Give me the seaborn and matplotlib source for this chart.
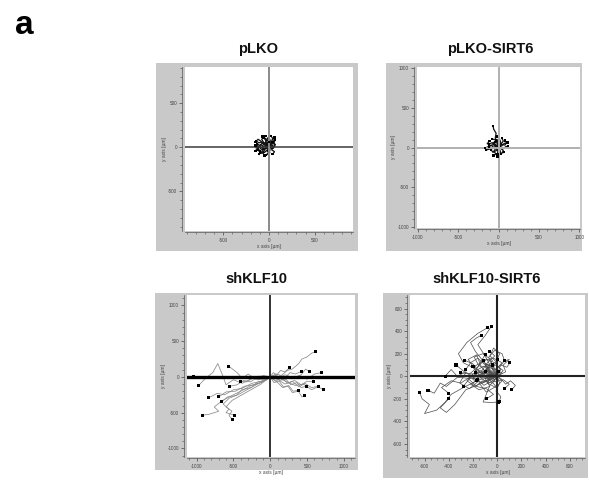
import pandas as pd
import matplotlib
matplotlib.use('Agg')
import matplotlib.pyplot as plt
from matplotlib.ticker import MultipleLocator
import seaborn as sns

# ----------
# track coordinates in um (every track starts at 0,0)
# ----------
plko_tracks = [
    [(0, 0), (-30, 20), (-60, 10), (-90, 30), (-120, -10), (-150, -40)],
    [(0, 0), (20, 40), (-10, 70), (-40, 100), (-70, 120)],
    [(0, 0), (30, 30), (50, 60), (40, 100), (20, 130)],
    [(0, 0), (-20, -30), (-50, -60), (-80, -50), (-110, -80)],
    [(0, 0), (40, -10), (60, 20), (55, 50), (65, 80)],
    [(0, 0), (-40, 40), (-80, 60), (-110, 50), (-140, 70)],
    [(0, 0), (10, -40), (-10, -70), (-30, -90)],
    [(0, 0), (-60, -20), (-90, 0), (-130, 20), (-100, -50)],
    [(0, 0), (30, 50), (0, 90), (-30, 70), (-60, 110)],
    [(0, 0), (50, 10), (30, -30), (60, -50), (40, -80)],
    [(0, 0), (-20, 60), (-50, 40), (-80, 90), (-40, 130)],
    [(0, 0), (-70, 10), (-50, -40), (-90, -70), (-120, -30)],
    [(0, 0), (-40, -10), (-20, 30), (-70, 50), (-100, 20), (-130, 40)],
    [(0, 0), (20, 10), (10, 50), (50, 40), (30, 80), (60, 110)],
    [(0, 0), (-10, 20), (-40, -20), (-70, -30), (-60, -70), (-100, -60)],
    [(0, 0), (40, 20), (20, -20), (50, -10), (70, 30), (40, 60)],
    [(0, 0), (-30, 50), (-60, 30), (-90, 70), (-120, 90), (-150, 60)],
    [(0, 0), (-20, -50), (10, -60), (-20, -80), (-50, -95)],
    [(0, 0), (-50, 30), (-30, 80), (-10, 110), (10, 90), (0, 60)],
    [(0, 0), (-80, -30), (-110, 10), (-140, -10), (-150, 20)],
]

plko_sirt6_tracks = [
    [(0, 0), (-20, 60), (-40, 120), (-30, 180), (-60, 230), (-66, 267)],
    [(0, 0), (40, 20), (70, 50), (110, 62)],
    [(0, 0), (20, -40), (28, -81)],
    [(0, 0), (-10, -60), (-12, -114)],
    [(0, 0), (-60, -10), (-110, -20), (-156, -32)],
    [(0, 0), (-40, 30), (-80, 60), (-120, 40)],
    [(0, 0), (30, 60), (10, 110), (-20, 140)],
    [(0, 0), (-30, -40), (-70, -60), (-90, -30)],
    [(0, 0), (50, -20), (90, 10), (120, 20)],
    [(0, 0), (-50, 50), (-30, 90), (-80, 110)],
    [(0, 0), (20, 30), (60, 80), (40, 120)],
    [(0, 0), (-80, -10), (-130, 10), (-170, -10)],
    [(0, 0), (-20, 20), (-60, 0), (-90, 30), (-120, 10)],
    [(0, 0), (10, 40), (-20, 60), (0, 100), (-30, 90)],
    [(0, 0), (30, -10), (60, -40), (40, -70), (70, -60)],
    [(0, 0), (-40, -20), (-60, -50), (-30, -80), (-60, -100)],
    [(0, 0), (-10, 30), (-50, 20), (-70, 60), (-40, 70)],
    [(0, 0), (40, 40), (80, 30), (100, 60), (80, 90)],
    [(0, 0), (-30, 10), (-20, -30), (10, -50), (-10, -90)],
    [(0, 0), (-60, 40), (-100, 20), (-140, 50), (-110, 80)],
]

shklf10_tracks = [
    # right hand group
    [(0, 0), (80, 40), (150, 20), (230, 90), (300, 110), (380, 180), (430, 250), (500, 280), (560, 330), (617, 355)],
    [(0, 0), (40, 60), (90, 30), (140, 90), (200, 70), (261, 126)],
    [(0, 0), (60, -30), (130, 20), (200, -10), (270, 60), (340, 40), (419, 75)],
    [(0, 0), (90, 20), (160, -40), (250, 10), (330, -20), (420, 30), (480, 110), (532, 75)],
    [(0, 0), (100, -20), (200, 30), (300, -10), (400, 20), (500, -30), (600, 40), (698, 61)],
    [(0, 0), (70, -60), (150, -20), (240, -90), (330, -50), (420, -110), (500, -60), (586, -70)],
    [(0, 0), (110, -40), (200, -100), (300, -60), (390, -140), (470, -90), (560, -150), (653, -131)],
    [(0, 0), (120, -10), (230, -70), (340, -120), (450, -100), (560, -180), (640, -140), (721, -173)],
    [(0, 0), (60, 30), (130, -50), (210, -30), (280, -110), (360, -80), (420, -150), (486, -131)],
    [(0, 0), (50, -80), (120, -60), (180, -140), (250, -120), (310, -200), (383, -187)],
    [(0, 0), (90, -70), (170, -150), (240, -130), (300, -220), (380, -200), (430, -280), (464, -266)],
    # left hand group
    [(0, 0), (-150, 10), (-300, -5), (-450, 8), (-600, -5), (-750, 5), (-900, -3), (-1045, 0)],
    [(0, 0), (-100, 20), (-200, -30), (-300, 40), (-380, -20), (-450, 60), (-500, 100), (-563, 150)],
    [(0, 0), (-120, -40), (-250, -20), (-380, -90), (-500, -40), (-600, -110), (-650, 30), (-712, 187),
     (-780, 60), (-880, -20), (-968, -117)],
    [(0, 0), (-90, -30), (-180, -10), (-270, -70), (-360, -50), (-450, -110), (-550, -131)],
    [(0, 0), (-80, 10), (-160, -40), (-240, -20), (-320, -70), (-405, -61)],
    [(0, 0), (-120, -60), (-250, -90), (-380, -160), (-500, -180), (-620, -250), (-720, -230), (-833, -290)],
    [(0, 0), (-130, -80), (-260, -120), (-400, -200), (-520, -260), (-650, -330), (-760, -420), (-700, -480),
     (-820, -520), (-923, -537)],
    [(0, 0), (-150, -90), (-300, -170), (-420, -240), (-560, -300), (-640, -380), (-560, -450), (-600, -500),
     (-482, -537)],
    [(0, 0), (-140, -110), (-280, -190), (-400, -260), (-520, -330), (-600, -420), (-520, -480), (-560, -540),
     (-518, -593)],
    [(0, 0), (-100, -70), (-220, -110), (-350, -130), (-470, -200), (-600, -210), (-700, -280)],
    [(0, 0), (-60, -50), (-170, -70), (-260, -150), (-390, -180), (-460, -260), (-580, -280), (-660, -350)],
]

shklf10_sirt6_tracks = [
    [(0, 0), (-60, 60), (-120, 140), (-180, 220), (-220, 300), (-170, 340), (-130, 364)],
    [(0, 0), (-50, 80), (-100, 180), (-160, 280), (-100, 360), (-47, 444)],
    [(0, 0), (-150, 50), (-280, 120), (-320, 200), (-250, 300), (-160, 380), (-80, 430)],
    [(0, 0), (-150, -30), (-280, -100), (-380, -160), (-430, -230), (-500, -300), (-600, -330),
     (-560, -250), (-620, -200), (-640, -145)],
    [(0, 0), (-200, -20), (-330, -10), (-420, -90), (-470, -60), (-520, -150), (-571, -124)],
    [(0, 0), (-100, -50), (-260, -120), (-350, -250), (-420, -320), (-470, -280), (-400, -200)],
    [(0, 0), (-60, -80), (-116, -228), (-50, -232), (8, -228)],
    [(0, 0), (20, -60), (-10, -130), (30, -180), (17, -222)],
    [(0, 0), (-80, 40), (-150, 10), (-200, 80), (-120, 130), (-60, 90), (-100, 40)],
    [(0, 0), (-40, -60), (-120, -40), (-180, -90), (-250, -40), (-200, 20), (-300, 30)],
    [(0, 0), (30, 60), (-20, 120), (-90, 150), (-150, 100), (-110, 60), (-180, 30)],
    [(0, 0), (-100, -20), (-60, -90), (-150, -120), (-220, -70), (-160, -30)],
    [(0, 0), (40, -40), (-10, -100), (-80, -60), (-40, 20), (-120, 60), (-80, 120), (-20, 180), (-60, 220)],
    [(0, 0), (-60, 20), (-140, -10), (-90, -50), (-30, -20), (-70, 70), (-160, 160), (-220, 120), (-260, 60)],
    [(0, 0), (20, 80), (60, 140), (40, 200), (-20, 230), (-70, 170), (-40, 100)],
    [(0, 0), (-120, 30), (-200, -20), (-260, 40), (-330, 0), (-380, 60), (-430, 0)],
    [(0, 0), (-50, 100), (-130, 80), (-170, 190), (-240, 150), (-200, 90)],
    [(0, 0), (70, 40), (50, 100), (100, 150), (63, 136)],
    [(0, 0), (40, 30), (-20, 60), (30, 100), (80, 80), (105, 119)],
    [(0, 0), (-30, -50), (50, -30), (100, -70), (60, -110)],
    [(0, 0), (-200, 10), (-300, -60), (-380, -40), (-460, -100), (-400, -150)],
    [(0, 0), (-70, 50), (-140, 30), (-200, 110), (-268, 142)],
    [(0, 0), (-40, 60), (-10, 130), (-60, 180), (-30, 250), (20, 200), (0, 150)],
    [(0, 0), (-90, 60), (-40, 140), (-120, 200), (-190, 170), (-150, 90), (-230, 20), (-170, -40)],
    [(0, 0), (-150, -60), (-90, -140), (-10, -90), (-60, -30), (-130, 40), (-220, -10), (-280, -90)],
    [(0, 0), (-30, 90), (-100, 110), (-80, 40), (-170, -20), (-110, -80), (-40, -40), (10, 40)],
    [(0, 0), (-110, 90), (-190, 40), (-150, -40), (-230, -110), (-310, -60), (-260, 30), (-340, 100)],
    [(0, 0), (50, 50), (-10, 100), (-80, 70), (-50, -10), (-120, -60), (-200, -30), (-180, 50), (-100, 190)],
    [(0, 0), (-60, -30), (-130, 20), (-80, 80), (-10, 60), (40, 120), (-30, 160), (-110, 140)],
    [(0, 0), (-180, 40), (-240, -20), (-170, -90), (-90, -110), (-30, -160), (-90, -200)],
    [(0, 0), (30, -20), (70, -70), (110, -40), (150, -80), (120, -120)],
]

titles = ['pLKO', 'pLKO-SIRT6', 'shKLF10', 'shKLF10-SIRT6']
x_limits = [(-920, 920), (-1010, 1010), (-1130, 1150), (-720, 725)]
y_limits = [(-950, 910), (-1010, 1010), (-1120, 1145), (-715, 720)]
major_steps = [500, 500, 500, 200]
minor_steps = [100, 100, 100, 50]

W, H = 589, 483
plt.rcParams['axes.unicode_minus'] = False
plt.rcParams['font.family'] = ['Liberation Sans', 'DejaVu Sans']
fig = plt.figure(figsize=(W / 100, H / 100), dpi=100)


def box(x0, y0, x1, y1):
    # pixel box -> figure axes
    return fig.add_axes([x0 / W, 1 - y1 / H, (x1 - x0) / W, (y1 - y0) / H])


def to_frame(tracks):
    rows = []
    for i, t in enumerate(tracks):
        for j, (x, y) in enumerate(t):
            rows.append({'track': i, 'step': j, 'x': x, 'y': y})
    return pd.DataFrame(rows)


# gray frame box, inner plot box, title position (px)
frames = [(156, 63, 358, 251), (386, 63, 582, 251), (155, 293, 358, 470), (383, 293, 588, 478)]
inner = [(185, 67, 353, 231), (417, 67, 580, 228), (187, 295, 355, 457), (410, 295, 585, 457)]
title_xy = [(258, 49), (490, 49), (256, 279), (487, 279)]
all_tracks = [plko_tracks, plko_sirt6_tracks, shklf10_tracks, shklf10_sirt6_tracks]
line_colors = ['#111111', '#111111', '#8a8a8a', '#4a4a4a']
line_widths = [0.9, 0.9, 0.55, 0.5]
dot_sizes = [3, 3, 5, 5]
cross = [('#3a3a3a', 1.1, '#8a8a8a', 1.4), ('#b0b0b0', 1.4, '#b0b0b0', 1.4),
         ('#000000', 2.4, '#111111', 1.2), ('#222222', 1.5, '#222222', 1.5)]

for k in range(4):
    fr = box(*frames[k])
    fr.set_facecolor('#c9c9c9')
    fr.set_xticks([])
    fr.set_yticks([])
    for s in fr.spines.values():
        s.set_visible(False)

    ax = box(*inner[k])
    ax.set_facecolor('white')
    df = to_frame(all_tracks[k])
    sns.lineplot(data=df, x='x', y='y', units='track', estimator=None, sort=False,
                 color=line_colors[k], lw=line_widths[k], ax=ax, legend=False, zorder=2)
    ends = df.groupby('track').tail(1)
    sns.scatterplot(data=ends, x='x', y='y', color='black', s=dot_sizes[k], marker='s',
                    edgecolor='none', ax=ax, legend=False, zorder=5)

    hc, hw, vc, vw = cross[k]
    ax.axhline(0, color=hc, lw=hw, zorder=3)
    ax.axvline(0, color=vc, lw=vw, zorder=3)

    ax.set_xlim(*x_limits[k])
    ax.set_ylim(*y_limits[k])
    ax.xaxis.set_major_locator(MultipleLocator(major_steps[k]))
    ax.yaxis.set_major_locator(MultipleLocator(major_steps[k]))
    ax.xaxis.set_minor_locator(MultipleLocator(minor_steps[k]))
    ax.yaxis.set_minor_locator(MultipleLocator(minor_steps[k]))
    ax.tick_params(which='major', length=2.2, width=0.5, colors='#444444', labelsize=3.3, pad=1.5)
    ax.tick_params(which='minor', length=1.2, width=0.4, colors='#444444')
    for side in ['top', 'right']:
        ax.spines[side].set_visible(False)
    ax.spines['left'].set_position(('outward', 2))
    ax.spines['bottom'].set_position(('outward', 1))
    for side in ['left', 'bottom']:
        ax.spines[side].set_color('#555555')
        ax.spines[side].set_linewidth(0.5)
    ax.set_xlabel('x axis [µm]', fontsize=3.5, color='#444444', labelpad=1)
    ax.set_ylabel('y axis [µm]', fontsize=3.5, color='#444444', labelpad=1)

    fig.text(title_xy[k][0] / W, 1 - title_xy[k][1] / H, titles[k], ha='center', va='center',
             fontsize=10.5, fontweight='bold', color='#111111')

fig.text(15 / W, 1 - 34 / H, 'a', fontsize=24, fontweight='bold', va='baseline', ha='left')

fig.savefig('out.png', dpi=100)
